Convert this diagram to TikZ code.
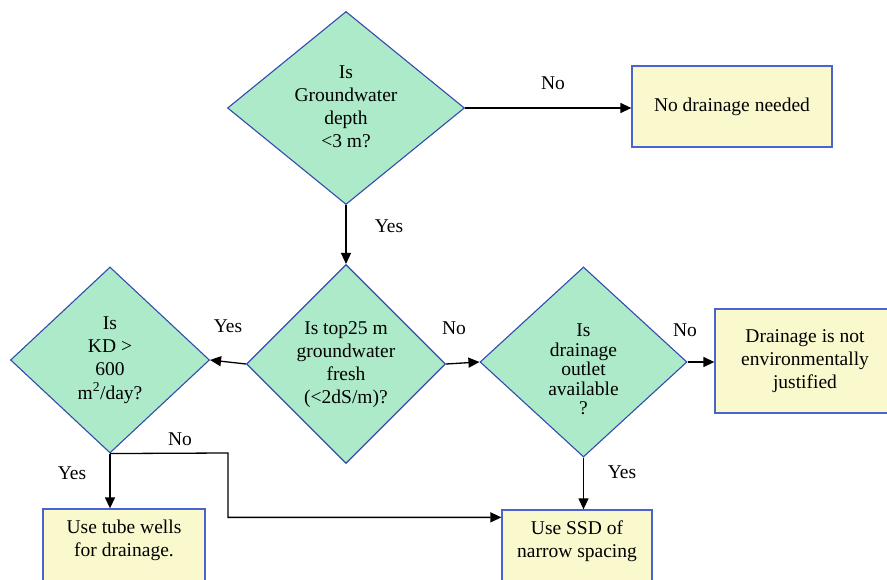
\documentclass[tikz,border=0pt]{standalone}
\usepackage{fontspec}
\setmainfont{Liberation Serif}
\usetikzlibrary{shapes.geometric,arrows.meta}
\definecolor{mint}{RGB}{173,234,201}
\definecolor{cream}{RGB}{250,248,205}
\definecolor{rimblue}{RGB}{50,75,175}
\definecolor{boxblue}{RGB}{75,100,205}
\begin{document}
\begin{tikzpicture}[x=1pt,y=-1pt,
  every node/.style={font=\fontsize{19.5}{23}\selectfont},
  question/.style={diamond,draw=rimblue,fill=mint,line width=1.1pt,inner sep=0pt},
  answer/.style={rectangle,draw=boxblue,fill=cream,line width=1.3pt,inner sep=3pt},
  flow/.style={line width=1.3pt,-{Triangle[length=11pt,width=10pt]}},
  tag/.style={inner sep=0pt}]
\useasboundingbox (0,0) rectangle (887,580);
\clip (0,0) rectangle (887,580);
\node[question,aspect=1.23,minimum width=237pt,minimum height=193pt] (depth) at (346,108)
  {\begin{tabular}{@{}c@{}}Is\\Groundwater\\depth\\<3 m?\end{tabular}};
\node[answer,minimum width=200pt,minimum height=81pt] (nodrain) at (732,106.5) {No drainage needed};
\node[question,minimum width=199pt,minimum height=199pt] (fresh) at (346,364)
  {\begin{tabular}{@{}c@{}}Is top25 m\\groundwater\\fresh\\(<2dS/m)?\end{tabular}};
\node[question,aspect=1.07,minimum width=199pt,minimum height=186pt] (kd) at (110,360)
  {\begin{tabular}{@{}c@{}}Is\\KD >\\600\\m\textsuperscript{2}/day?\end{tabular}};
\node[question,aspect=1.09,minimum width=207pt,minimum height=190pt,
  font=\fontsize{19.5}{19.5}\selectfont,text height=45pt,text depth=15pt] (outlet) at (583.5,362)
  {\begin{tabular}{@{}c@{}}Is\\drainage\\outlet\\available\\?\end{tabular}};
\node[answer,minimum width=180pt,minimum height=104pt] (notjust) at (805,361)
  {\begin{tabular}{@{}c@{}}Drainage is not\\environmentally\\justified\end{tabular}};
\node[answer,minimum width=162pt,minimum height=84pt,text height=20pt,text depth=31.2pt] (tube) at (124,551)
  {\begin{tabular}{@{}c@{}}Use tube wells\\for drainage.\end{tabular}};
\node[answer,minimum width=150pt,minimum height=84pt,text height=20pt,text depth=31.2pt] (ssd) at (577,552)
  {\begin{tabular}{@{}c@{}}Use SSD of\\narrow spacing\end{tabular}};
\draw[flow] (depth.east) -- (depth.east -| nodrain.west);
\draw[flow] (depth.south) -- (fresh.north);
\draw[flow] (fresh.west) -- (kd.east);
\draw[flow] (fresh.east) -- (outlet.west);
\draw[flow] (outlet.east) -- (outlet.east -| notjust.west);
\draw[flow] (kd.south) -- (kd.south |- tube.north);
\draw[flow] (outlet.south) -- (outlet.south |- ssd.north);
\coordinate (kdturn) at (228,453);
\draw[flow] (kd.south) -- (kdturn) |- ([yshift=-8pt]ssd.north west);
\node[tag] (no1) at (553,83) {No};
\node[tag] (yes1) at (389,226) {Yes};
\node[tag] (yes2) at (228,326) {Yes};
\node[tag] (no2) at (454,328) {No};
\node[tag] (no3) at (685,330) {No};
\node[tag] (yes3) at (72,473) {Yes};
\node[tag] (no4) at (180,439) {No};
\node[tag] (yes4) at (622,472) {Yes};
\end{tikzpicture}
\end{document}
